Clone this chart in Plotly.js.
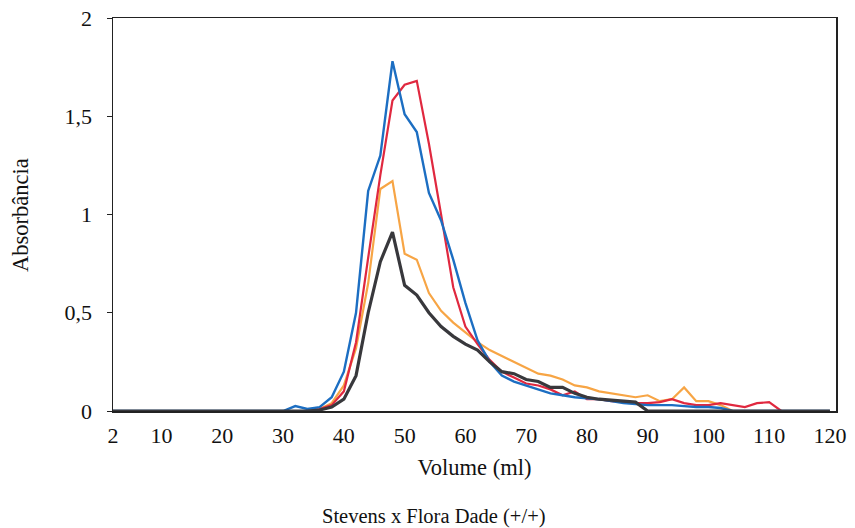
<!DOCTYPE html>
<html>
<head>
<meta charset="utf-8">
<script src="https://cdn.plot.ly/plotly-3.0.1.min.js"></script>
<style>html,body{margin:0;padding:0;background:#fff;}#chart{width:855px;height:528px;}</style>
</head>
<body>
<div id="chart"></div>
<script>
// Volume (ml), step 2
const volume = [2,4,6,8,10,12,14,16,18,20,22,24,26,28,30,32,34,36,38,40,42,44,46,48,50,52,54,56,58,60,62,64,66,68,70,72,74,76,78,80,82,84,86,88,90,92,94,96,98,100,102,104,106,108,110,112,114,116,118,120];

const seriesBlack = [0,0,0,0,0,0,0,0,0,0,0,0,0,0,0,0,0,0.005,0.02,0.06,0.18,0.5,0.76,0.91,0.64,0.59,0.5,0.43,0.38,0.34,0.31,0.25,0.2,0.19,0.16,0.15,0.12,0.12,0.09,0.07,0.06,0.055,0.05,0.045,0,0,0,0,0,0,0,0,0,0,0,0,0,0,0,0];

const seriesOrange = [0,0,0,0,0,0,0,0,0,0,0,0,0,0,0,0,0,0.01,0.04,0.13,0.32,0.65,1.13,1.17,0.8,0.77,0.6,0.51,0.45,0.4,0.35,0.31,0.28,0.25,0.22,0.19,0.18,0.16,0.13,0.12,0.1,0.09,0.08,0.07,0.08,0.05,0.06,0.12,0.05,0.05,0.03,0,0,0,0,0,0,0,0,0];

const seriesRed = [0,0,0,0,0,0,0,0,0,0,0,0,0,0,0,0,0,0.01,0.03,0.1,0.35,0.78,1.2,1.58,1.66,1.68,1.36,1.0,0.63,0.43,0.34,0.26,0.2,0.17,0.14,0.13,0.11,0.08,0.1,0.06,0.06,0.05,0.045,0.04,0.04,0.045,0.06,0.04,0.03,0.03,0.04,0.03,0.02,0.04,0.045,0,0,0,0,0];

const seriesBlue = [0,0,0,0,0,0,0,0,0,0,0,0,0,0,0,0.025,0.01,0.02,0.07,0.2,0.5,1.12,1.3,1.78,1.51,1.42,1.11,0.97,0.77,0.55,0.36,0.25,0.18,0.15,0.13,0.11,0.09,0.08,0.07,0.065,0.06,0.05,0.04,0.035,0.03,0.03,0.03,0.025,0.02,0.02,0.015,0,0,0,0,0,0,0,0,0];

const xTicks = [2,10,20,30,40,50,60,70,80,90,100,110,120];
const yTicks = [0,0.5,1,1.5,2];
const yTickText = ['0','0,5','1','1,5','2'];

const serif = 'Liberation Serif, Times New Roman, serif';

const traces = [
  {x: volume, y: seriesOrange, mode:'lines', line:{color:'#f7a545', width:2.2}},
  {x: volume, y: seriesRed, mode:'lines', line:{color:'#e0283f', width:2.2}},
  {x: volume, y: seriesBlue, mode:'lines', line:{color:'#1c6ec2', width:2.4}},
  {x: volume, y: seriesBlack, mode:'lines', line:{color:'#38383c', width:3.2}}
];

const layout = {
  width: 855, height: 528,
  margin: {l:113, r:19, t:18, b:117},
  paper_bgcolor:'#fff', plot_bgcolor:'#fff',
  showlegend:false,
  font:{family:serif, color:'#111', size:22},
  xaxis:{
    range:[2,121], tickvals:xTicks, ticktext:xTicks.map(String),
    showgrid:false, zeroline:false, showline:true, mirror:true, linecolor:'#222', linewidth:1.5,
    ticks:'', ticklen:0, ticklabelstandoff:4,
    tickfont:{family:serif, size:22, color:'#111'},
    title:{text:'Volume (ml)', font:{family:serif, size:22.5, color:'#111'}, standoff:12}
  },
  yaxis:{
    range:[0,2], tickvals:yTicks, ticktext:yTickText,
    showgrid:false, zeroline:false, showline:true, mirror:true, linecolor:'#222', linewidth:1.5,
    ticks:'outside', ticklen:5, tickcolor:'#222', ticklabelstandoff:10,
    tickfont:{family:serif, size:22, color:'#111'}
  },
  annotations:[
    {text:'Absorbância', xref:'paper', yref:'paper', x:-0.1286, y:0.4987, xanchor:'center', yanchor:'middle', textangle:-90,
     showarrow:false, font:{family:serif, size:22.5, color:'#111'}},
    {text:'Stevens x Flora Dade (+/+)', xref:'paper', yref:'paper', x:0.444, y:-0.2697, xanchor:'center', yanchor:'middle',
     showarrow:false, font:{family:serif, size:20.5, color:'#111'}}
  ]
};

Plotly.newPlot('chart', traces, layout, {displayModeBar:false, staticPlot:true});
</script>
</body>
</html>
